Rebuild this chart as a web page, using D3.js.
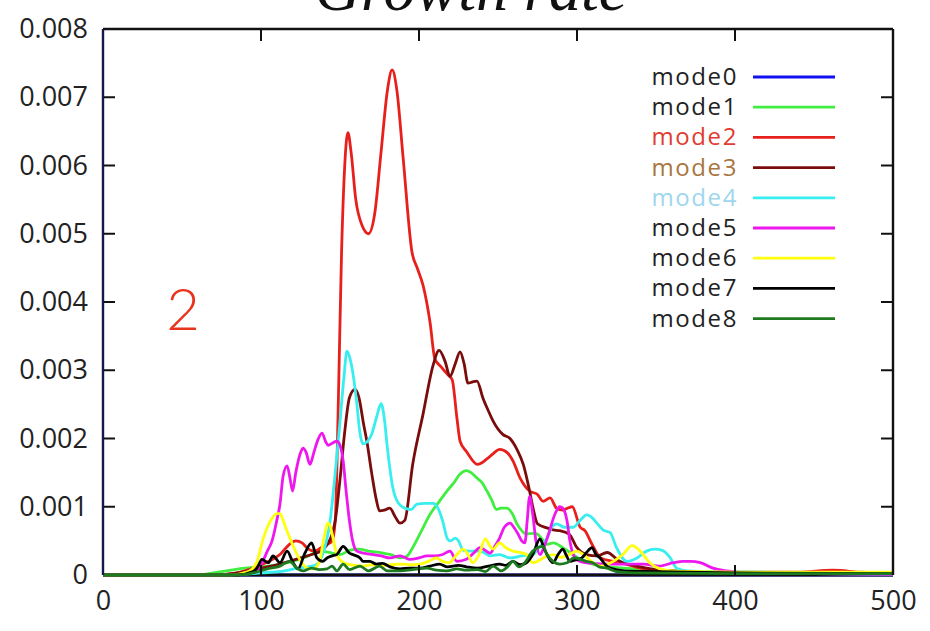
<!DOCTYPE html>
<html>
<head>
<meta charset="utf-8">
<script src="https://cdn.jsdelivr.net/npm/d3@7"></script>
<style>
  html, body { margin: 0; padding: 0; background: #fff; }
  svg { display: block; }
</style>
</head>
<body>
<svg id="chart" width="930" height="631"></svg>
<script>
// Growth rate of each mode, sampled as [x, rate] pairs
const mode0 = [[0,0],[500,0]];
const mode1 = [[0,0],[60,0],[75,0.00005],[90,0.0001],[100,0.00012],[110,0.00015],[120,0.0002],[130,0.00028],[137,0.00035],[143,0.00033],[150,0.0003],[156,0.00036],[162,0.00038],[168,0.00035],[175,0.00033],[182,0.0003],[188,0.00025],[192,0.00027],[196,0.0004],[201,0.00062],[207,0.00089],[212,0.00105],[217.7,0.00123],[222,0.00135],[226,0.00148],[230,0.00153],[233,0.0015],[236.7,0.00142],[240,0.00135],[243,0.00123],[246,0.0011],[249,0.00096],[252,0.00098],[255.7,0.00098],[259,0.0009],[262,0.00075],[265,0.00065],[268,0.0006],[272,0.00061],[275,0.0006],[278,0.00052],[281,0.00045],[285,0.00047],[291,0.0004],[297.5,0.0003],[303,0.00022],[310,0.00016],[320,0.00012],[330,0.0001],[345,0.00008],[360,0.00006],[380,0.00004],[420,0.00003],[500,0.00002]];
const mode2 = [[0,0],[70,0],[85,0.00003],[95,0.0001],[105,0.0002],[112,0.0003],[118,0.00045],[122,0.0005],[126,0.00047],[130,0.00038],[134,0.00035],[138,0.0004],[142,0.00045],[145,0.0005],[147,0.0008],[149,0.0026],[151,0.00474],[153,0.006],[155,0.00648],[157,0.0062],[160,0.0055],[164,0.00512],[168,0.005],[172,0.0053],[176,0.0062],[180,0.0071],[183,0.0074],[186,0.0071],[190,0.0061],[195.5,0.00474],[199,0.00449],[202.5,0.00425],[207,0.0037],[210,0.00317],[214,0.00305],[218,0.00294],[221,0.00286],[224,0.0023],[226,0.00196],[230,0.00181],[237,0.00162],[243,0.0017],[247,0.00178],[251,0.00184],[256,0.00179],[259.5,0.00167],[264,0.00142],[270,0.00123],[275,0.00118],[278.5,0.00108],[283,0.00113],[287,0.00098],[291,0.00095],[294,0.00098],[297,0.001],[302,0.0007],[305,0.00065],[309.5,0.00045],[315,0.00025],[323,0.0002],[331,0.00016],[340,0.0001],[350,0.00007],[370,0.00005],[400,0.00004],[440,0.00004],[462,0.00007],[480,0.00004],[500,0.00003]];
const mode3 = [[0,0],[70,0],[90,0.00005],[100,0.0001],[110,0.00015],[118,0.0002],[125,0.00025],[132,0.0003],[138,0.00035],[142,0.00045],[145,0.0006],[147,0.0008],[150,0.0014],[153,0.0021],[156,0.0026],[159.5,0.00272],[162,0.0026],[165,0.0022],[167,0.00196],[170,0.0015],[173,0.0011],[175,0.00094],[178,0.00095],[181.5,0.00098],[185,0.00085],[188,0.00076],[191,0.0008],[196,0.00162],[202.5,0.00235],[209,0.00308],[212.7,0.00329],[216.5,0.00313],[219.6,0.00291],[223,0.0031],[226,0.00327],[228.5,0.0031],[231,0.00281],[234,0.00283],[236.7,0.00284],[240.5,0.00259],[244,0.0024],[247,0.00225],[253,0.00206],[257.6,0.002],[262,0.00184],[266,0.00162],[270,0.00123],[272,0.001],[275,0.00075],[281,0.00069],[285,0.00066],[289,0.00065],[295,0.0006],[300,0.0004],[306,0.0003],[312.7,0.00028],[319,0.00033],[327,0.0002],[338,0.00013],[350,0.00008],[370,0.00005],[400,0.00003],[500,0.00002]];
const mode4 = [[0,0],[80,0],[100,0.00003],[115,0.00006],[123,0.0001],[130,0.00012],[135.5,0.00016],[139,0.0003],[143.7,0.00079],[147,0.0015],[150,0.00225],[152.5,0.0029],[154.4,0.00328],[156,0.0032],[158,0.00298],[160.7,0.0025],[162.5,0.0021],[164.6,0.00192],[167,0.00195],[170,0.00206],[173,0.0023],[176,0.00251],[178,0.0023],[180,0.00186],[183.5,0.00127],[187,0.00105],[191,0.00098],[195,0.00096],[198.7,0.00104],[204,0.00105],[209,0.00105],[212,0.00098],[215,0.00079],[218,0.00053],[220,0.0005],[223,0.00054],[225,0.0005],[228,0.00036],[232,0.00035],[237,0.00035],[241,0.00033],[245,0.00028],[251,0.0003],[257.6,0.00025],[265,0.00028],[272,0.0003],[276,0.0004],[281,0.00054],[284,0.0007],[287,0.00075],[292,0.0007],[297.5,0.0007],[302,0.0008],[306,0.00088],[310,0.00083],[313,0.00075],[316.5,0.00066],[321,0.00062],[325,0.0004],[331.6,0.0002],[338,0.00025],[344,0.00035],[349,0.00038],[354,0.00036],[359,0.00025],[363,0.0001],[370,0.00006],[390,0.00005],[420,0.00004],[450,0.00002],[500,0.00001]];
const mode5 = [[0,0],[80,0],[95,0.00005],[100,0.00015],[104,0.00035],[107,0.0005],[110,0.0008],[112,0.00104],[114,0.00145],[116.5,0.0016],[118.5,0.0014],[120,0.00123],[122,0.0015],[124.7,0.00177],[126.6,0.00186],[128.5,0.0018],[131,0.00162],[133.5,0.0018],[136,0.00198],[138.6,0.00208],[141,0.00195],[142.5,0.0019],[145,0.00193],[148,0.00196],[150,0.0019],[152,0.00167],[154,0.0012],[156,0.00079],[158,0.0005],[160.7,0.00035],[165,0.00032],[171,0.0003],[176,0.00028],[181.6,0.00025],[188,0.00028],[194,0.00023],[200,0.00025],[205,0.00028],[210,0.00028],[215,0.0003],[219.6,0.00035],[224,0.0002],[230,0.00023],[235,0.00033],[238.6,0.0004],[242,0.00036],[245,0.00032],[248,0.00042],[251,0.00054],[254,0.0007],[257.6,0.00076],[260,0.0007],[262.7,0.0006],[265,0.0005],[267,0.00047],[268.5,0.0008],[270,0.00115],[272,0.00089],[274,0.0005],[276.6,0.0003],[279,0.0004],[282,0.0006],[286,0.00089],[289,0.001],[291,0.00098],[293.7,0.00079],[295.5,0.0005],[298,0.00028],[302,0.0002],[310,0.00017],[320,0.00016],[330,0.00016],[342,0.00016],[352,0.00013],[361,0.00018],[367,0.0002],[372,0.0002],[378,0.00018],[386,0.0001],[395,0.00006],[410,0.00003],[450,0.00002],[500,0.00001]];
const mode6 = [[0,0],[80,0],[92,0.00005],[97.5,0.0002],[101,0.0005],[104,0.0007],[107,0.00083],[110,0.0009],[112,0.0009],[114,0.0008],[116.5,0.00064],[119,0.0005],[122.8,0.0003],[126,0.00018],[129,0.0001],[133,0.00009],[137,0.0002],[139.5,0.0005],[142.4,0.00076],[144,0.0007],[145.6,0.00054],[148,0.0003],[151,0.0002],[154.4,0.00016],[160,0.00014],[164.6,0.00013],[170,0.00015],[176,0.00014],[182,0.00015],[188,0.00016],[195,0.00015],[200.6,0.00016],[206,0.0002],[211,0.00025],[215,0.0002],[219,0.00018],[224,0.0003],[228,0.00038],[231,0.0003],[234,0.00018],[238,0.0003],[242,0.00053],[245,0.00042],[247,0.00038],[251,0.00047],[255,0.0004],[259.5,0.00035],[264,0.00033],[268,0.0003],[272,0.00018],[275,0.0002],[278.5,0.00025],[284.8,0.0003],[290,0.00026],[295,0.0003],[300,0.00035],[304,0.0003],[309,0.0002],[315,0.00013],[323,0.0002],[329,0.0003],[335,0.00043],[340,0.00035],[346,0.00018],[352.5,0.00009],[360,0.00006],[380,0.00005],[420,0.00004],[460,0.00004],[500,0.00004]];
const mode7 = [[0,0],[85,0],[95,0.00005],[97.5,0.0001],[100.6,0.00023],[104.6,0.00018],[107.6,0.00028],[112,0.00018],[116.5,0.00035],[120.3,0.00018],[123.4,0.00009],[127.8,0.00032],[132,0.00047],[135.4,0.00025],[139,0.0002],[141.8,0.00025],[145,0.00028],[148,0.0003],[152,0.00042],[156,0.00032],[158,0.0003],[162.7,0.00025],[164.6,0.0002],[169,0.0002],[173,0.00016],[177,0.00017],[181.6,0.00012],[188,0.00009],[194,0.0001],[200.6,0.0001],[207,0.00013],[213,0.00016],[218,0.00012],[225,0.00014],[230,0.00012],[237,0.0001],[244,0.00013],[251,0.00016],[255,0.00014],[259.5,0.0002],[264,0.00015],[268,0.00018],[272,0.0003],[276.6,0.00053],[279,0.0004],[281,0.0003],[284.8,0.00018],[288,0.0003],[291,0.00038],[293,0.0003],[295.5,0.0002],[299,0.00022],[303,0.00025],[306,0.00033],[309.5,0.0004],[312,0.0003],[314.6,0.00025],[318,0.00015],[321,0.0001],[330,0.00006],[350,0.00005],[400,0.00003],[500,0.00002]];
const mode8 = [[0,0],[85,0],[95,0.00003],[104,0.00009],[112,0.00013],[118,0.0002],[122.8,0.0001],[126.6,0.00006],[132,0.0001],[137,0.00008],[141.8,0.00009],[145,0.00013],[148,0.00006],[152,0.00016],[156,0.00008],[162.7,0.00013],[168,0.00006],[175,0.00013],[180,0.00006],[188,0.00006],[196,0.00008],[205,0.0001],[211,0.00007],[217.7,0.00006],[224,0.00009],[230,0.00007],[237,0.00008],[242,0.00005],[247,0.00013],[252,0.00006],[256,0.00012],[259.5,0.0002],[263,0.00012],[267,0.00018],[272,0.00035],[278.5,0.00042],[281,0.0003],[284.8,0.0002],[289,0.00016],[293.7,0.00018],[298,0.00025],[302,0.00023],[306,0.0002],[310,0.00018],[314,0.00012],[319,0.0001],[325,0.00005],[340,0.00003],[400,0.00002],[500,0.00002]];

const seriesNames = ["mode0","mode1","mode2","mode3","mode4","mode5","mode6","mode7","mode8"];
const seriesData  = [mode0, mode1, mode2, mode3, mode4, mode5, mode6, mode7, mode8];
const lineColors  = ["#1010f0","#40ee40","#e8201c","#7a0c0c","#38eeee","#ee18ee","#ffff10","#000000","#1e7a1e"];
const labelColors = ["#222222","#222222","#e03c31","#a8763e","#9ed6ee","#222222","#222222","#222222","#222222"];

const xTicks = [0, 100, 200, 300, 400, 500];
const yTicks = [0, 0.001, 0.002, 0.003, 0.004, 0.005, 0.006, 0.007, 0.008];
const titleText = "Growth rate";
const panelLabel = "2";

const svg = d3.select("#chart");
const plot = { left: 103, right: 893, top: 29, bottom: 575 };

const x = d3.scaleLinear().domain([0, 500]).range([plot.left, plot.right]);
const y = d3.scaleLinear().domain([0, 0.008]).range([plot.bottom, plot.top]);

// Title, partly clipped at the top edge
svg.append("text")
  .attr("x", 471).attr("y", 10)
  .attr("text-anchor", "middle")
  .style("font-family", "'Liberation Serif','Times New Roman',serif")
  .style("font-style", "italic")
  .style("font-size", "64px")
  .attr("fill", "#111")
  .text(titleText);

const frameW = 2.4;

// Curves (mode0 sits under the bottom axis line, the rest above it)
const line = d3.line()
  .x(d => x(d[0]))
  .y(d => y(d[1]))
  .curve(d3.curveMonotoneX);

svg.append("clipPath").attr("id", "plotclip")
  .append("rect")
  .attr("x", plot.left).attr("y", plot.top)
  .attr("width", plot.right - plot.left).attr("height", plot.bottom - plot.top + 3);

const curves = svg.append("g").attr("clip-path", "url(#plotclip)");
function drawCurve(i) {
  curves.append("path")
    .datum(seriesData[i])
    .attr("d", line)
    .attr("fill", "none")
    .attr("stroke", lineColors[i])
    .attr("stroke-width", 2.8)
    .attr("stroke-linejoin", "round");
}
drawCurve(0);
curves.append("line").attr("x1", plot.left).attr("x2", plot.right)
  .attr("y1", plot.bottom).attr("y2", plot.bottom)
  .attr("stroke", "#111").attr("stroke-width", frameW + 0.6);
for (let i = 1; i < seriesData.length; i++) drawCurve(i);

// Axes: labels outside, ticks drawn inward on all four sides
const fontAxis = "'Open Sans','Noto Sans',sans-serif";
const yAxisLeft = d3.axisLeft(y).tickValues(yTicks).tickSize(0).tickPadding(15)
  .tickFormat(d => d === 0 ? "0" : d3.format(".3f")(d));
const xAxisBottom = d3.axisBottom(x).tickValues(xTicks).tickSize(0).tickPadding(16)
  .tickFormat(d3.format("d"));

const gy = svg.append("g").attr("transform", `translate(${plot.left},0)`).call(yAxisLeft);
const gx = svg.append("g").attr("transform", `translate(0,${plot.bottom})`).call(xAxisBottom);
[gy, gx].forEach(g => {
  g.select(".domain").remove();
  g.selectAll("text")
    .style("font-family", fontAxis)
    .style("font-size", "27px")
    .attr("fill", "#222");
});

const inner = yTicks.filter(v => v > 0 && v < 0.008);
const innerX = xTicks.filter(v => v > 0 && v < 500);
const tickLen = 12;
const ticks = svg.append("g").attr("stroke", "#111").attr("stroke-width", 2);
ticks.selectAll(".tl").data(inner).join("line")
  .attr("x1", plot.left).attr("x2", plot.left + tickLen)
  .attr("y1", d => y(d)).attr("y2", d => y(d));
ticks.selectAll(".tr").data(inner).join("line")
  .attr("x1", plot.right).attr("x2", plot.right - tickLen)
  .attr("y1", d => y(d)).attr("y2", d => y(d));
ticks.selectAll(".tt").data(innerX).join("line")
  .attr("x1", d => x(d)).attr("x2", d => x(d))
  .attr("y1", plot.top).attr("y2", plot.top + tickLen);
ticks.selectAll(".tb").data(innerX).join("line")
  .attr("x1", d => x(d)).attr("x2", d => x(d))
  .attr("y1", plot.bottom).attr("y2", plot.bottom - 10);

// Frame
svg.append("line").attr("x1", plot.left).attr("x2", plot.right)
  .attr("y1", plot.top).attr("y2", plot.top).attr("stroke", "#111").attr("stroke-width", frameW);
svg.append("line").attr("x1", plot.right).attr("x2", plot.right)
  .attr("y1", plot.top).attr("y2", plot.bottom).attr("stroke", "#111").attr("stroke-width", frameW);
svg.append("line").attr("x1", plot.left).attr("x2", plot.left)
  .attr("y1", plot.top).attr("y2", plot.bottom).attr("stroke", "#14184a").attr("stroke-width", frameW);

// Panel label
svg.append("text")
  .attr("x", 183).attr("y", 330)
  .attr("text-anchor", "middle")
  .style("font-family", "Lato,'Open Sans',sans-serif")
  .style("font-weight", 300)
  .style("font-size", "58px")
  .attr("fill", "#e8341c")
  .text(panelLabel);

// Legend
const legend = svg.append("g");
seriesNames.forEach((name, i) => {
  const ly = 77 + i * 30.2;
  legend.append("text")
    .attr("x", 738).attr("y", ly + 8)
    .attr("text-anchor", "end")
    .style("font-family", fontAxis)
    .style("font-size", "24px")
    .style("letter-spacing", "1.6px")
    .attr("fill", labelColors[i])
    .text(name);
  legend.append("line")
    .attr("x1", 753).attr("x2", 835)
    .attr("y1", ly).attr("y2", ly)
    .attr("stroke", lineColors[i])
    .attr("stroke-width", 2.8);
});
</script>
</body>
</html>
